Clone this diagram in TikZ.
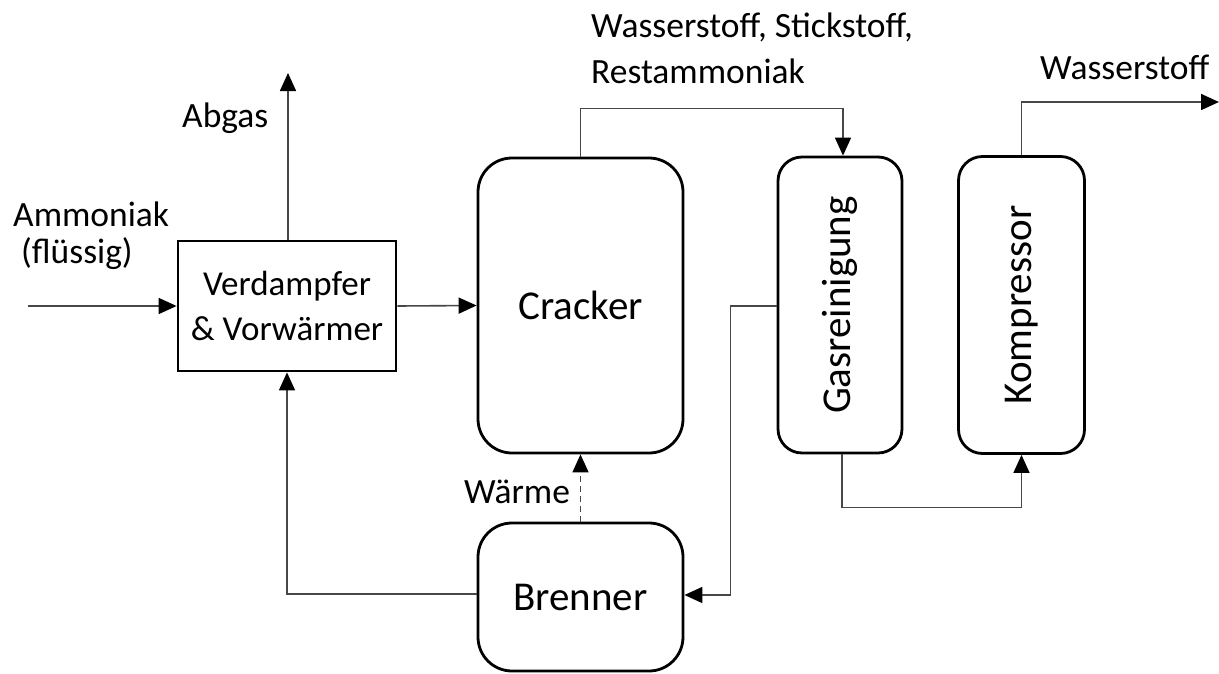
\documentclass[tikz,border=0pt]{standalone}
\usepackage{fontspec}
\setmainfont{Carlito}
\usetikzlibrary{arrows.meta}
\begin{document}
\begin{tikzpicture}[x=1pt,y=-1pt,
  box/.style={draw=black,line width=2.8pt,inner sep=0pt},
  rbox/.style={box,rounded corners=34pt},
  sbox/.style={box,rounded corners=24pt},
  flow/.style={draw=black!72,line width=1.6pt,-{Triangle[length=18pt,width=16pt,fill=black,color=black]}},
  lbl/.style={font=\fontsize{35.5}{45}\selectfont,inner sep=0pt},
  big/.style={font=\fontsize{41}{48}\selectfont}
]
\useasboundingbox (0,0) rectangle (1219,673);
% boxes
\node[box,minimum width=218pt,minimum height=130pt,align=center,font=\fontsize{35}{45}\selectfont] (vd) at (287,306) {Verdampfer\\\& Vorwärmer};
\node[rbox,minimum width=205pt,minimum height=295pt,big] (cr) at (580.5,305.5) {Cracker};
\node[sbox,minimum width=124pt,minimum height=296pt] (gr) at (840,305) {};
\node[big,rotate=90] (grt) at (gr.center) {Gasreinigung};
\node[sbox,minimum width=126pt,minimum height=297pt] (ko) at (1021.5,305) {};
\node[big,rotate=90] (kot) at (ko.center) {Kompressor};
\node[rbox,minimum width=205pt,minimum height=148pt,big] (br) at (580.5,597) {Brenner};
% free ends
\coordinate (in) at (28,306);
\coordinate (ab) at (288,73);
\coordinate (out) at (1219,102);
% connectors
\draw[flow] (in) -- (vd.west);
\draw[flow] (vd.north -| ab) -- (ab);
\draw[flow] (vd.east) -- (cr.west);
\draw[flow] (cr.north) -- ++(0,-48) -| ([xshift=3pt]gr.north);
\draw[flow] ([xshift=2pt]gr.south) -- ++(0,53) -| (ko.south);
\draw[flow] (ko.north) |- (out);
\draw[flow] ([yshift=-1pt]gr.west) -- ++(-46,0) |- ([yshift=2pt]br.east);
\draw[flow] ([yshift=3pt]br.west) -| (vd.south);
\draw[flow,dashed,dash pattern=on 6pt off 4pt] (br.north) -- (cr.south);
% labels
\node[lbl,anchor=base west] (l1) at (591,37) {Wasserstoff, Stickstoff,};
\node[lbl,anchor=base west] (l2) at (591,83) {Restammoniak};
\node[lbl,anchor=base west] (l3) at (1040,79) {Wasserstoff};
\node[lbl,anchor=base west] (l4) at (182,127) {Abgas};
\node[lbl,anchor=base west] (l5) at (13,226) {Ammoniak};
\node[lbl,anchor=base west] (l6) at (21,263) {(flüssig)};
\node[lbl,anchor=base west] (l7) at (464,503) {Wärme};
\end{tikzpicture}
\end{document}
